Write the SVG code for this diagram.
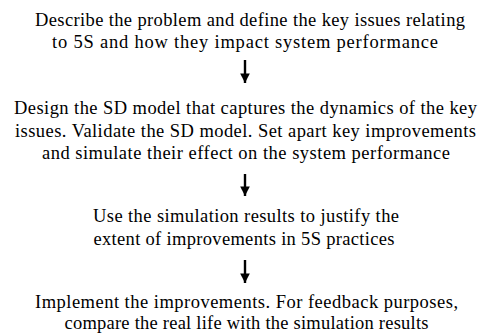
<svg xmlns="http://www.w3.org/2000/svg" width="486" height="335" viewBox="0 0 486 335">
<style>
text{font-family:"Liberation Serif","Times New Roman",serif;font-size:18.5px;fill:#000;text-anchor:middle}
.c{stroke:#000;stroke-width:2.4;fill:none}
</style>
<defs>
<marker id="ah" viewBox="0 0 10 10" refX="10" refY="5" markerWidth="4" markerHeight="4" orient="auto" markerUnits="strokeWidth">
<path d="M0,0 L10,5 L0,10 z" fill="#000"/>
</marker>
</defs>
<rect width="486" height="335" fill="#fff"/>
<g id="step1">
<text x="250" y="26" textLength="430" lengthAdjust="spacing">Describe the problem and define the key issues relating</text>
<text x="245" y="48" textLength="386" lengthAdjust="spacing">to 5S and how they impact system performance</text>
</g>
<g id="step2">
<text x="245.5" y="114" textLength="463" lengthAdjust="spacing">Design the SD model that captures the dynamics of the key</text>
<text x="245.5" y="137" textLength="461" lengthAdjust="spacing">issues. Validate the SD model. Set apart key improvements</text>
<text x="246" y="159" textLength="408" lengthAdjust="spacing">and simulate their effect on the system performance</text>
</g>
<g id="step3">
<text x="246" y="222" textLength="306" lengthAdjust="spacing">Use the simulation results to justify the</text>
<text x="244" y="245" textLength="301" lengthAdjust="spacing">extent of improvements in 5S practices</text>
</g>
<g id="step4">
<text x="246.5" y="308" textLength="423" lengthAdjust="spacing">Implement the improvements. For feedback purposes,</text>
<text x="246.5" y="329" textLength="364" lengthAdjust="spacing">compare the real life with the simulation results</text>
</g>
<g id="connectors">
<line class="c" x1="245" y1="60" x2="245" y2="83" marker-end="url(#ah)"/>
<line class="c" x1="245" y1="174" x2="245" y2="196" marker-end="url(#ah)"/>
<line class="c" x1="245" y1="260" x2="245" y2="283" marker-end="url(#ah)"/>
</g>
</svg>
